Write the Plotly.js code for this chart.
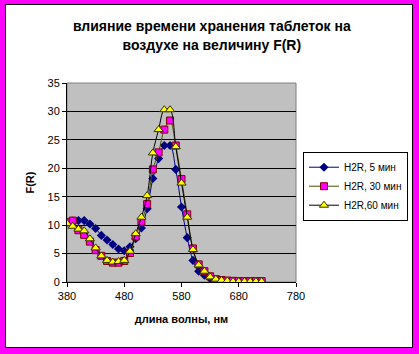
<!DOCTYPE html>
<html><head><meta charset="utf-8">
<script src="https://cdn.plot.ly/plotly-3.0.1.min.js"></script>
<style>
html,body{margin:0;padding:0;background:#FF00FF;width:419px;height:354px;overflow:hidden;}
#frame{position:absolute;left:5px;top:4px;width:406px;height:342px;border:1px solid #000;background:#fff;}
#chart{width:406px;height:342px;}
</style></head>
<body><div id="frame"><div id="chart"></div></div>
<script>
const wavelength = [380,390,400,410,420,430,440,450,460,470,480,490,500,510,520,530,540,550,560,570,580,590,600,610,620,630,640,650,660,670,680,690,700,710,720];
const h2r5 = [10.5,10.7,10.8,10.8,10.2,9.4,8.2,7.4,6.6,5.8,5.5,6.2,7.6,9.5,12.9,18.2,21.7,24.0,24.0,19.8,13.2,7.8,3.8,1.9,1.2,0.6,0.3,0.2,0.1,0.1,0.1,0.05,0.05,0.05,0.05];
const h2r30 = [10.5,10.8,9.1,8.3,7.1,5.6,4.6,3.7,3.4,3.4,3.7,5.1,8.0,10.6,13.7,19.8,22.8,26.8,28.4,24.0,18.1,11.9,5.9,3.1,1.9,1.0,0.5,0.35,0.25,0.2,0.15,0.15,0.15,0.15,0.15];
const h2r60 = [10.3,9.8,9.3,9.0,7.6,6.0,4.6,3.8,3.5,3.6,3.8,5.4,8.5,11.4,15.2,22.7,26.8,30.3,30.3,23.8,17.4,11.4,5.7,3.0,1.9,0.9,0.5,0.3,0.2,0.1,0.1,0.1,0.1,0.1,0.1];
const seriesNames = ['H2R, 5 мин','H2R, 30 мин','H2R,60 мин'];
const xTicks = [380,480,580,680,780];
const yTicks = [0,5,10,15,20,25,30,35];

const font = 'Liberation Sans, Arial, sans-serif';
const traces = [
  {x: wavelength, y: h2r5, name: seriesNames[0], mode:'lines+markers',
   line:{color:'#000080', width:1, shape:'spline'},
   marker:{symbol:'diamond', size:7, color:'#000080', line:{width:0}}},
  {x: wavelength, y: h2r30, name: seriesNames[1], mode:'lines+markers',
   line:{color:'#4d4d00', width:1, shape:'spline'},
   marker:{symbol:'square', size:7, color:'#FF00FF', line:{color:'#800000', width:1}}},
  {x: wavelength, y: h2r60, name: seriesNames[2], mode:'lines+markers',
   line:{color:'#000000', width:1, shape:'spline'},
   marker:{symbol:'triangle-up', size:8, color:'#FFFF00', line:{color:'#333300', width:1}}}
];
const layout = {
  width:406, height:342,
  margin:{l:61, r:115.5, t:77.7, b:65},
  paper_bgcolor:'#ffffff', plot_bgcolor:'#C0C0C0',
  font:{family:font, size:11, color:'#000'},
  title:{text:'<b>влияние времени хранения таблеток на<br>воздухе на величину F(R)</b>',
         font:{family:font, size:14, color:'#000'}, x:0.507, xref:'container', xanchor:'center',
         y:0.923, yref:'container', yanchor:'top'},
  xaxis:{range:[380,780], tickvals:xTicks, ticktext:xTicks.map(String), showgrid:false, zeroline:false,
         showline:true, linecolor:'#000', linewidth:1, ticks:'outside', ticklen:4, tickcolor:'#000',
         title:{text:'<b>длина волны, нм</b>', font:{family:font, size:11}, standoff:14}},
  yaxis:{range:[0,35], tickvals:yTicks, showgrid:true, gridcolor:'#000', gridwidth:1, zeroline:false,
         showline:true, linecolor:'#000', linewidth:1, ticks:'outside', ticklen:4, tickcolor:'#000',
         title:{text:'<b>F(R)</b>', font:{family:font, size:11}, standoff:10}},
  shapes:[{type:'rect', xref:'paper', yref:'paper', x0:0, x1:1, y0:0, y1:1, line:{color:'#808080', width:1}, layer:'below'}],
  showlegend:true,
  legend:{xref:'container', yref:'container', x:0.7315, xanchor:'left', y:0.571, yanchor:'top',
          bgcolor:'#fff', bordercolor:'#000', borderwidth:1,
          font:{family:font, size:10}, tracegroupgap:0, itemwidth:30}
};
Plotly.newPlot('chart', traces, layout, {displayModeBar:false, staticPlot:true});
</script></body></html>
